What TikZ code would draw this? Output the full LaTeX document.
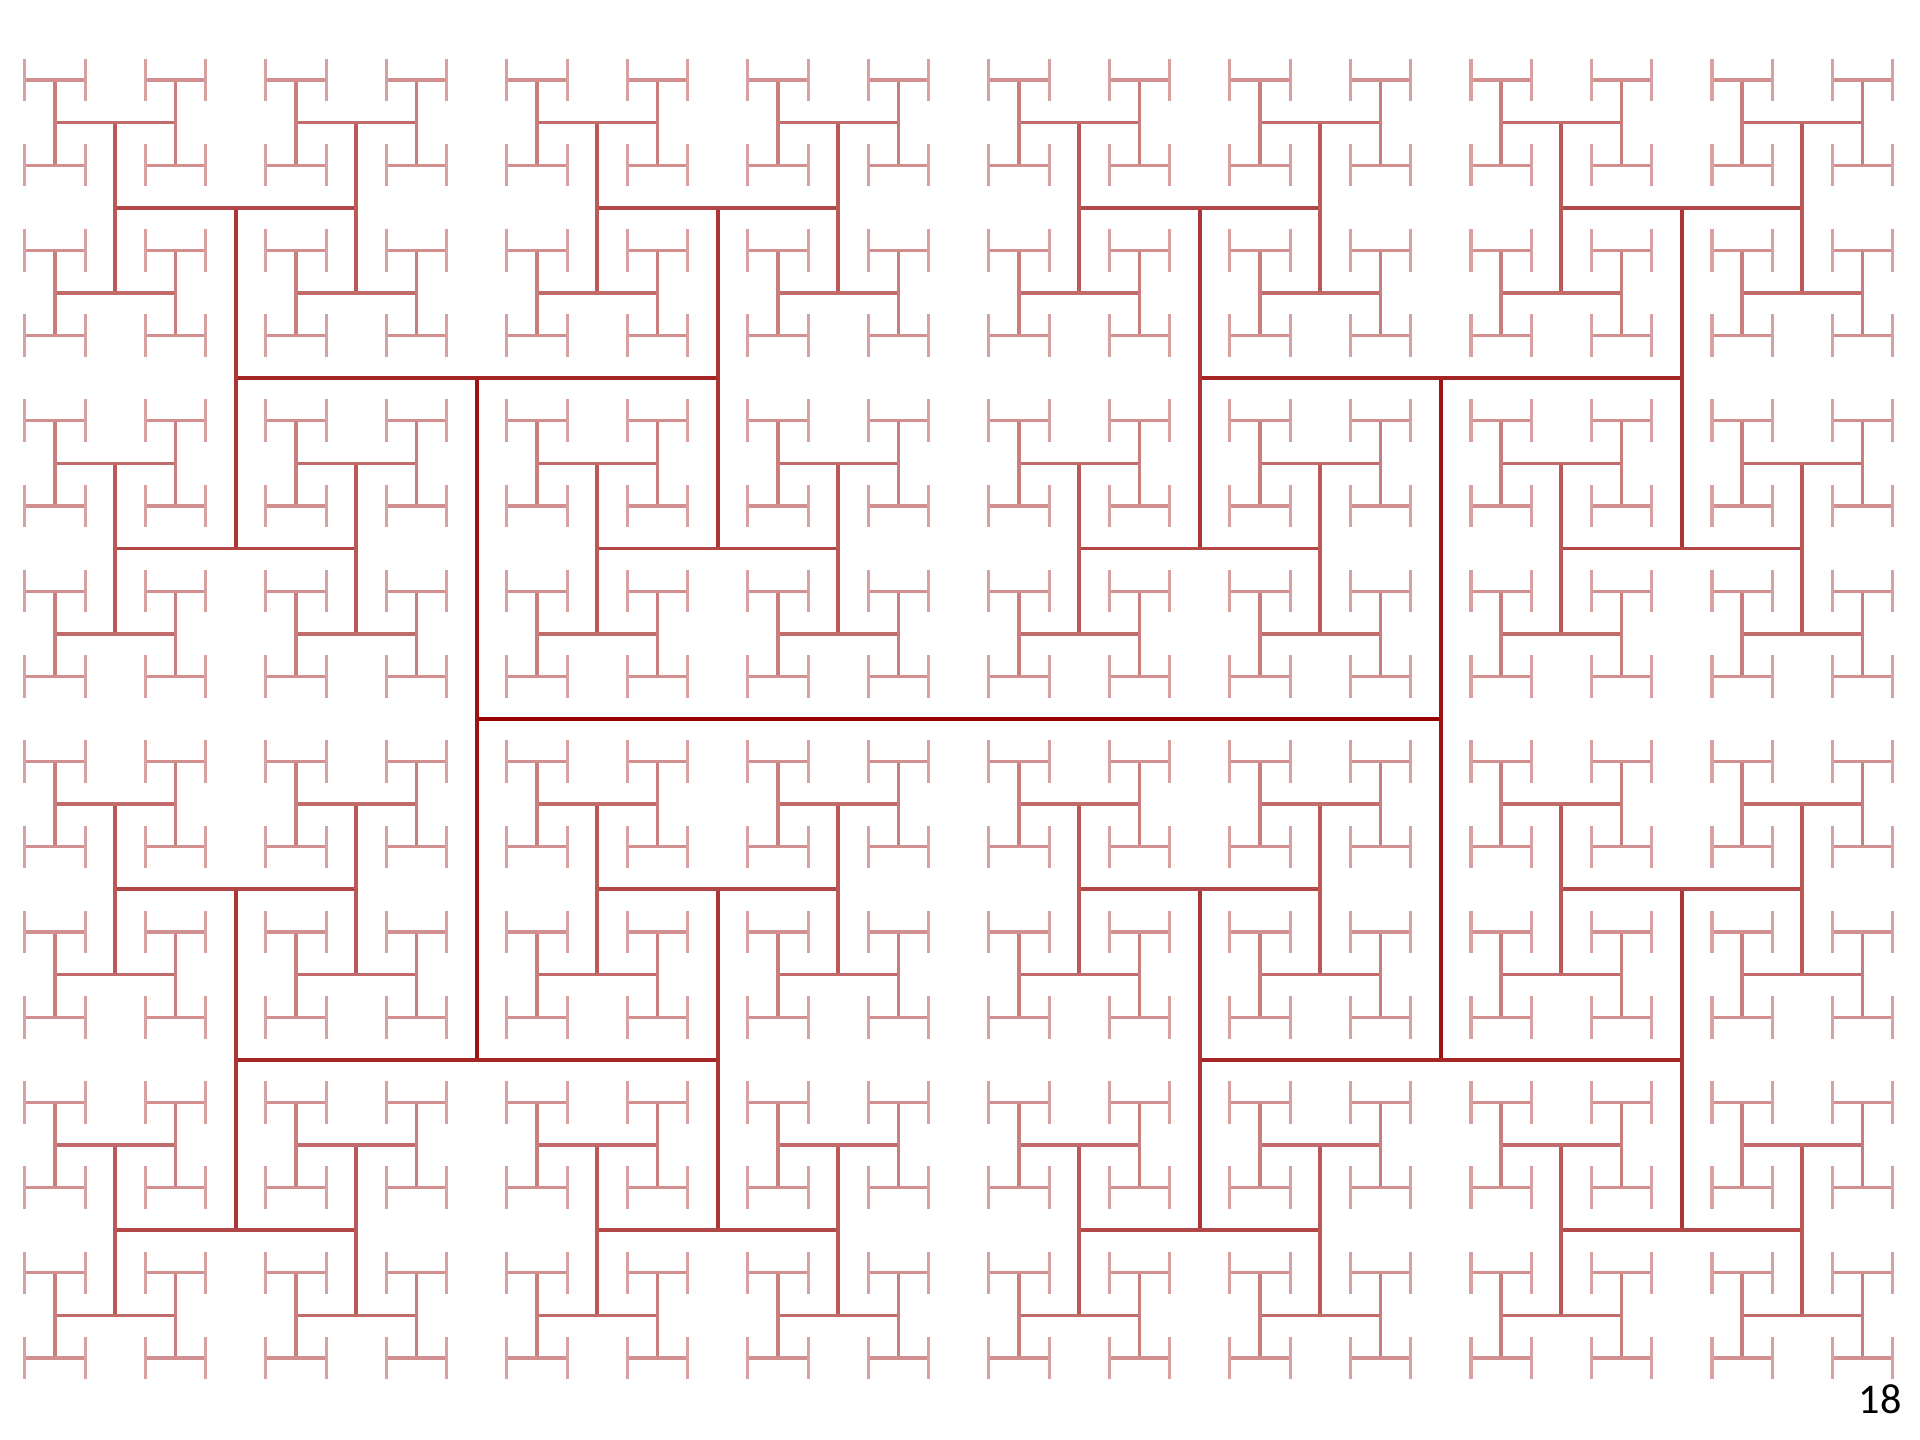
\documentclass[tikz,border=0pt]{standalone}
\usepackage{fontspec}
\setmainfont{Carlito}
\definecolor{treeRed}{RGB}{150,0,0}
\tikzstyle{bar} = [line cap=butt]
\tikzstyle{pagenum} = [inner sep=0pt, text=black, font=\fontsize{12pt}{14pt}\selectfont]

% horizontal branch: centre x, centre y, length, level
\newcommand{\hBranch}[4]{%
  \begingroup
  \pgfmathsetmacro{\xa}{#1-#3/2}%
  \pgfmathsetmacro{\xb}{#1+#3/2}%
  \pgfmathsetmacro{\sublen}{#3/sqrt(2)}%
  \pgfmathtruncatemacro{\sublevel}{#4+1}%
  \pgfmathtruncatemacro{\shade}{100-7*#4}%
  \pgfmathsetmacro{\lw}{1.25-0.04*#4}%
  \draw[bar, draw=treeRed!\shade!white, line width=\lw pt] (\xa,#2) -- (\xb,#2);
  \ifnum\sublevel<10
    \edef\nextcalls{\noexpand\vBranch{\xa}{#2}{\sublen}{\sublevel}%
      \noexpand\vBranch{\xb}{#2}{\sublen}{\sublevel}}%
    \nextcalls
  \fi
  \endgroup}

% vertical branch: centre x, centre y, length, level
\newcommand{\vBranch}[4]{%
  \begingroup
  \pgfmathsetmacro{\ya}{#2-#3/2}%
  \pgfmathsetmacro{\yb}{#2+#3/2}%
  \pgfmathsetmacro{\sublen}{#3/sqrt(2)}%
  \pgfmathtruncatemacro{\sublevel}{#4+1}%
  \pgfmathtruncatemacro{\shade}{100-7*#4}%
  \pgfmathsetmacro{\lw}{1.25-0.04*#4}%
  \draw[bar, draw=treeRed!\shade!white, line width=\lw pt] (#1,\ya) -- (#1,\yb);
  \ifnum\sublevel<10
    \edef\nextcalls{\noexpand\hBranch{#1}{\ya}{\sublen}{\sublevel}%
      \noexpand\hBranch{#1}{\yb}{\sublen}{\sublevel}}%
    \nextcalls
  \fi
  \endgroup}

\begin{document}
\begin{tikzpicture}[x=0.01cm, y=-0.01cm]
  \fill[white] (0,0) rectangle (1920,1440);
  \useasboundingbox (0,0) rectangle (1920,1440);

  % H-tree
  \hBranch{958.8}{719}{964}{0}

  % slide number
  \node (slidenum) [pagenum] at (1880,1399) {18};
\end{tikzpicture}
\end{document}
